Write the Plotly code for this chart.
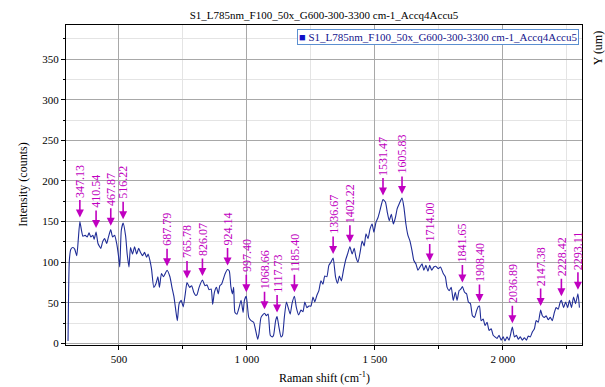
import numpy as np
import plotly.graph_objects as go

# Raman spectrum (cm-1, counts)
raman_shift = [
    301, 306, 312, 320, 327, 335, 341, 347.13, 353, 359, 368, 376, 383, 390, 398, 403,
    410.54, 418, 429, 436, 444, 452, 458, 467.87, 475, 483, 491, 498, 503, 509, 516.22,
    526, 532, 539, 545, 553, 561, 569, 577, 584, 592, 600, 608, 614, 621, 627, 636, 644,
    652, 658, 666, 674, 687.79, 699, 707, 715, 723, 728, 735, 743, 751, 759, 765.78, 776,
    784, 792, 800, 805, 813, 826.07, 836, 844, 852, 860, 866, 873, 881, 888, 894, 901,
    915, 924.14, 931, 937, 943, 948, 953, 961, 969, 977, 985, 990, 997.40, 1007, 1016,
    1026, 1034, 1042, 1047, 1055, 1068.66, 1076, 1083, 1091, 1099, 1104, 1112, 1117.73,
    1125, 1133, 1139, 1146, 1154, 1161, 1169, 1176, 1185.40, 1193, 1202, 1211, 1219,
    1226, 1234, 1242, 1250, 1258, 1265, 1273, 1281, 1289, 1297, 1304, 1312, 1320, 1328,
    1336.67, 1346, 1354, 1361, 1369, 1377, 1385, 1393, 1402.22, 1411, 1419, 1426, 1434,
    1442, 1450, 1458, 1465, 1473, 1481, 1489, 1496, 1504, 1512, 1520, 1531.47, 1541,
    1548, 1556, 1564, 1572, 1580, 1587, 1595, 1605.83, 1613, 1621, 1629, 1637, 1645,
    1652, 1660, 1668, 1676, 1684, 1691, 1699, 1707, 1714.00, 1722, 1730, 1738, 1747,
    1756, 1767, 1775, 1782, 1790, 1798, 1806, 1814, 1821, 1829, 1836, 1841.65, 1850,
    1858, 1865, 1873, 1881, 1889, 1897, 1903, 1908.40, 1915, 1923, 1930, 1938, 1946,
    1954, 1962, 1969, 1977, 1985, 1993, 2001, 2008, 2016, 2024, 2036.89, 2045, 2053,
    2060, 2068, 2076, 2084, 2092, 2099, 2107, 2115, 2123, 2130, 2138, 2147.38, 2154,
    2162, 2169, 2177, 2185, 2193, 2201, 2208, 2216, 2224, 2228.42, 2237, 2245, 2253,
    2260, 2268, 2276, 2284, 2293.11, 2299,
]
intensity = [
    3, 102, 116, 118, 116, 108, 128, 150, 140, 132, 133, 131, 136, 131, 133, 128,
    137, 123, 117, 125, 129, 123, 130, 140, 131, 133, 123, 108, 94, 139, 148,
    132, 110, 94, 118, 110, 119, 110, 117, 112, 108, 112, 106, 110, 102, 92, 69, 73,
    82, 69, 86, 82, 90, 82, 69, 57, 38, 28, 49, 53, 45, 61, 75, 69,
    71, 63, 59, 60, 69, 78, 71, 72, 66, 67, 48, 63, 69, 61, 71, 73,
    86, 91, 89, 70, 61, 69, 38, 36, 44, 53, 38, 53, 58, 32, 28,
    26, 16, 5, 12, 32, 37, 34, 36, 10, 8, 10, 28, 33,
    20, 8, 10, 32, 51, 44, 36, 49, 58, 44, 35, 41, 39,
    51, 44, 46, 46, 57, 51, 59, 65, 77, 73, 83, 82, 96, 100,
    105, 82, 74, 83, 77, 90, 102, 110, 119, 110, 117, 106, 100,
    112, 126, 120, 135, 129, 141, 147, 137, 149, 155, 164, 177, 174,
    162, 151, 159, 147, 155, 166, 172, 179, 168, 147, 133, 126, 114,
    102, 98, 90, 94, 98, 90, 96, 89, 96, 90, 94, 95, 92,
    94, 86, 82, 69, 65, 69, 53, 63, 53, 65, 67, 70, 63,
    61, 51, 49, 34, 32, 40, 45, 46, 28, 30, 22, 26, 16,
    18, 10, 8, 6, 10, 4, 8, 3, 8, 4, 20, 8, 10,
    5, 8, 4, 7, 4, 9, 8, 14, 18, 28, 26, 41, 34,
    32, 34, 29, 32, 28, 38, 44, 42, 51, 53, 44, 51, 44,
    53, 44, 57, 49, 61, 44,
]

# Labelled peak positions (cm-1)
peak_positions = [
    347.13, 410.54, 467.87, 516.22, 687.79, 765.78, 826.07, 924.14, 997.40,
    1068.66, 1117.73, 1185.40, 1336.67, 1402.22, 1531.47, 1605.83, 1714.00,
    1841.65, 1908.40, 2036.89, 2147.38, 2228.42, 2293.11,
]
peak_labels = [f"{p:.2f}" for p in peak_positions]

x_tick_vals = [500, 1000, 1500, 2000]
x_tick_text = ["500", "1 000", "1 500", "2 000"]
x_minor_vals = [750, 1250, 1750, 2250]

series_name = "S1_L785nm_F100_50x_G600-300-3300 cm-1_Accq4Accu5"

LINE_COLOR = "#1f2c96"
PEAK_COLOR = "#c000c0"
SERIF = "Liberation Serif, Times New Roman, serif"

fig = go.Figure()
fig.add_trace(go.Scatter(
    x=raman_shift, y=intensity, mode="lines",
    line=dict(color=LINE_COLOR, width=1.1, shape="spline", smoothing=0.5),
    showlegend=False, hoverinfo="x+y",
))

annotations = []
peak_heights = np.interp(peak_positions, raman_shift, intensity)
for pos, h, lab in zip(peak_positions, peak_heights, peak_labels):
    # downward arrow ending just above the peak
    annotations.append(dict(
        x=pos, y=float(h), xref="x", yref="y", text="", showarrow=True,
        arrowhead=2, arrowsize=1, arrowwidth=1.6, arrowcolor=PEAK_COLOR,
        ax=0, ay=-23, standoff=4,
    ))
    # rotated peak position label above the arrow
    annotations.append(dict(
        x=pos, y=float(h), xref="x", yref="y", text=lab, showarrow=False,
        textangle=-90, yanchor="bottom", xanchor="center", yshift=22,
        font=dict(family=SERIF, size=12, color=PEAK_COLOR),
    ))

# legend box
annotations.append(dict(
    xref="paper", yref="paper", x=1, y=1, xanchor="right", yanchor="top",
    xshift=-3, yshift=-4, showarrow=False,
    text=f"<span style='color:#1010c8'>■</span> {series_name}",
    font=dict(family=SERIF, size=11, color="#14148c"),
    bordercolor="#5b8fd0", borderwidth=1, borderpad=1, bgcolor="white",
))
# axis titles
annotations.append(dict(
    xref="paper", yref="paper", x=0.5, y=-0.102, xanchor="center", yanchor="middle",
    showarrow=False, text="Raman shift (cm<sup>-1</sup>)",
    font=dict(family=SERIF, size=12, color="black"),
))
annotations.append(dict(
    xref="paper", yref="paper", x=-0.084, y=0.5, xanchor="center", yanchor="middle",
    showarrow=False, text="Intensity (counts)", textangle=-90,
    font=dict(family=SERIF, size=12, color="black"),
))
# secondary axis caption at the right edge
annotations.append(dict(
    xref="paper", yref="paper", x=1.0316, y=0.928, xanchor="center", yanchor="middle",
    showarrow=False, text="Y (um)", textangle=-90,
    font=dict(family=SERIF, size=12, color="black"),
))

fig.update_layout(
    width=605, height=387,
    margin=dict(l=66, r=23, t=25, b=42),
    paper_bgcolor="white", plot_bgcolor="white",
    title=dict(text=series_name, x=0.5, xref="paper", xanchor="center",
               y=1 - 15 / 387, yref="container", yanchor="middle",
               font=dict(family=SERIF, size=11, color="black")),
    annotations=annotations,
    showlegend=False,
)

fig.update_xaxes(
    range=[293, 2309], tickmode="array", tickvals=x_tick_vals, ticktext=x_tick_text,
    ticks="outside", ticklen=4, tickcolor="black", tickwidth=1,
    tickfont=dict(family=SERIF, size=11, color="black"),
    showgrid=True, gridcolor="#a8a8a8", gridwidth=1,
    minor=dict(tickvals=x_minor_vals, ticks="outside", ticklen=3, tickcolor="black",
               showgrid=True, gridcolor="#e4e4e4", gridwidth=1),
    showline=True, linecolor="black", linewidth=1, mirror=True, zeroline=False,
)
fig.update_yaxes(
    range=[-2, 392], tickmode="linear", tick0=0, dtick=50,
    ticks="outside", ticklen=4, tickcolor="black", tickwidth=1,
    tickfont=dict(family=SERIF, size=11, color="black"),
    showgrid=True, gridcolor="#a8a8a8", gridwidth=1,
    minor=dict(dtick=25, ticks="outside", ticklen=2, tickcolor="black",
               showgrid=True, gridcolor="#e4e4e4", gridwidth=1),
    showline=True, linecolor="black", linewidth=1, mirror=True, zeroline=False,
)

fig.write_html("out.html")
